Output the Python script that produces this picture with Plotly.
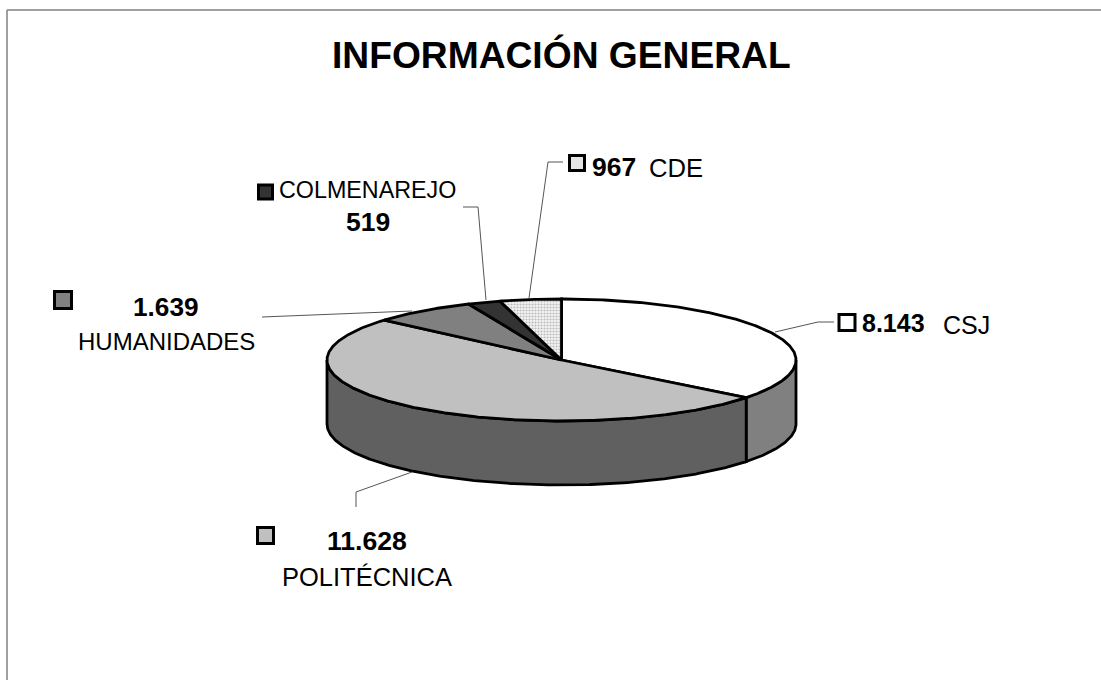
import math
import plotly.graph_objects as go

# Slice values, clockwise from 12 o'clock
categories = ["CSJ", "POLITÉCNICA", "HUMANIDADES", "COLMENAREJO", "CDE"]
values = [8143, 11628, 1639, 519, 967]
value_labels = ["8.143", "11.628", "1.639", "519", "967"]
top_colors = ["#ffffff", "#c0c0c0", "#808080", "#333333", "#e4e4e4"]
wall_colors = {"CSJ": "#808080", "POLITÉCNICA": "#606060"}

FONT = "Liberation Sans"
CX, CY, RX, RY, DEPTH = 561.5, 360, 234.5, 61, 64
OUTLINE = dict(color="#000000", width=2.8)


def rim_point(deg, drop=0):
    t = math.radians(deg)
    return CX + RX * math.sin(t), CY - RY * math.cos(t) + drop


def arc(start, end, drop=0):
    steps = max(2, int(abs(end - start) * 2))
    pts = [rim_point(start + (end - start) * i / steps, drop) for i in range(steps + 1)]
    return [p[0] for p in pts], [p[1] for p in pts]


fig = go.Figure()
total = sum(values)

# side walls are only visible on the front half of the ellipse
angle = 0
edges = []
for name, v in zip(categories, values):
    edges.append((name, angle, angle + v / total * 360))
    angle += v / total * 360

for name, start, end in edges:
    lo, hi = max(start, 90), min(end, 270)
    if lo >= hi:
        continue
    xs, ys = arc(lo, hi)
    xb, yb = arc(hi, lo, DEPTH)
    fig.add_trace(go.Scatter(
        x=xs + xb + xs[:1], y=ys + yb + ys[:1], mode="lines", fill="toself",
        fillcolor=wall_colors[name], line=OUTLINE, hoverinfo="skip",
    ))

# top face
for (name, start, end), color in zip(edges, top_colors):
    xs, ys = arc(start, end)
    pattern = None
    if name == "CDE":
        pattern = dict(shape=".", bgcolor="#f4f4f4", fgcolor="#808080", size=3, solidity=0.4)
    fig.add_trace(go.Scatter(
        x=[CX] + xs + [CX], y=[CY] + ys + [CY], mode="lines", fill="toself",
        fillcolor=color, fillpattern=pattern, line=OUTLINE, hoverinfo="skip",
    ))

# leader lines
leaders = [
    ([775, 818, 834], [332, 322, 322]),
    ([412, 356, 356], [472, 492, 507]),
    ([262, 412], [317, 311]),
    ([463, 478, 486], [207, 207, 300]),
    ([529, 548, 563], [298, 162, 162]),
]
for lx, ly in leaders:
    fig.add_trace(go.Scatter(x=lx, y=ly, mode="lines", line=dict(color="#555555", width=1), hoverinfo="skip"))

# legend keys
key_x = [847, 265.5, 63, 265.5, 577]
key_y = [322.5, 535.5, 300, 192, 163]
key_colors = ["#ffffff", "#c0c0c0", "#808080", "#333333", "#e4e4e4"]
key_sizes = [16, 16, 17, 14, 15]
fig.add_trace(go.Scatter(
    x=key_x, y=key_y, mode="markers", hoverinfo="skip",
    marker=dict(symbol="square", size=key_sizes, color=key_colors, opacity=1,
                line=dict(color="#000000", width=3)),
))

texts = [
    ("INFORMACIÓN GENERAL", 561, 55, 37.2, True),
    (value_labels[0], 893, 323, 25, True),
    (categories[0], 966, 325, 25, False),
    (value_labels[1], 367, 541, 26.6, True),
    (categories[1], 367, 577, 25.5, False),
    (value_labels[2], 166, 307, 26.2, True),
    (categories[2], 166, 341, 24, False),
    (categories[3], 367, 190, 23.3, False),
    (value_labels[3], 367.5, 222, 26.5, True),
    (value_labels[4], 614, 167, 26.5, True),
    (categories[4], 676, 168, 25.6, False),
]
annotations = [
    dict(x=x, y=y, text=f"<b>{t}</b>" if bold else t, showarrow=False,
         xanchor="center", yanchor="middle", font=dict(family=FONT, size=size, color="#000000"))
    for t, x, y, size, bold in texts
]

fig.update_layout(
    width=1101, height=680, margin=dict(l=0, r=0, t=0, b=0),
    paper_bgcolor="#ffffff", plot_bgcolor="#ffffff", showlegend=False,
    xaxis=dict(range=[0, 1101], visible=False),
    yaxis=dict(range=[680, 0], visible=False),
    annotations=annotations,
    shapes=[
        dict(type="line", x0=7, x1=1101, y0=10, y1=10, line=dict(color="#808080", width=1.5)),
        dict(type="line", x0=7, x1=7, y0=10, y1=680, line=dict(color="#808080", width=1.5)),
    ],
)

fig.write_html("out.html", config={"displayModeBar": False},
               post_script="document.body.style.margin='0';document.body.style.overflow='hidden';")
